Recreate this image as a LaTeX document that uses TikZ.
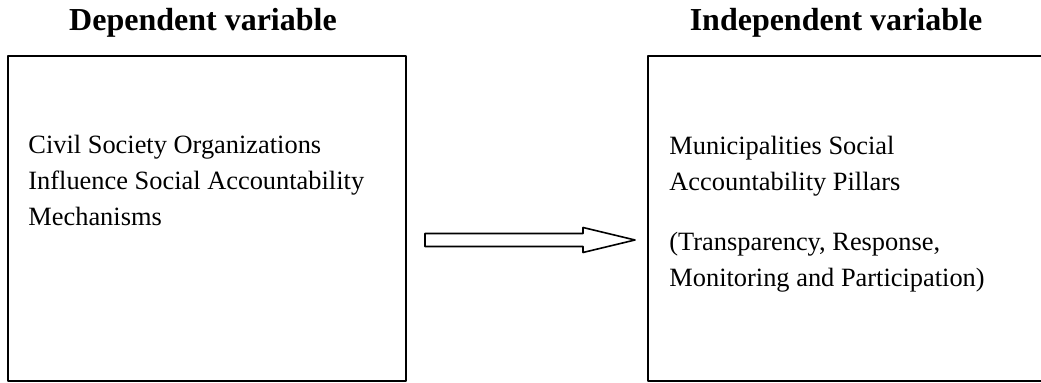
\documentclass[tikz,border=0pt]{standalone}
\usepackage{fontspec}
\setmainfont{Liberation Serif}
\usetikzlibrary{calc}

\begin{document}
\begin{tikzpicture}[line cap=round,line join=round,x=0.5pt,y=-0.5pt,
  varbox/.style={draw,line width=1.pt,minimum width=199pt,minimum height=162.5pt,inner sep=0pt},
  vartitle/.style={anchor=base,font=\fontsize{16}{19}\selectfont\bfseries},
  vartext/.style={anchor=north west,inner sep=0pt,align=left,font=\fontsize{13.2}{18}\selectfont}]
\useasboundingbox (0,0) rectangle (1041,383);
\clip (0,0) rectangle (1041,383);
% the two variable boxes
\node[varbox] (dep) at (207,218.5) {};
\node[varbox] (indep) at (847,218.5) {};
\node[vartitle] (deptitle) at (203,31) {Dependent variable};
\node[vartitle] (indeptitle) at (836,31) {Independent variable};
\node[vartext] (deptext) at (28,135) {Civil Society Organizations\\Influence Social Accountability\\Mechanisms};
\node[vartext] (indeptext) at (669,136) {Municipalities Social\\Accountability Pillars\\[12pt](Transparency, Response,\\Monitoring and Participation)};
% hollow block arrow
\coordinate (tail) at (425,240);
\coordinate (tip) at (635,240);
\draw [line width=0.8pt] ($(tail)+(0,-6.5)$) -- ($(tip)+(-52,-6.5)$) -- ($(tip)+(-52,-12.5)$) -- (tip)
  -- ($(tip)+(-52,12.5)$) -- ($(tip)+(-52,6.5)$) -- ($(tail)+(0,6.5)$) -- cycle;
\end{tikzpicture}
\end{document}
